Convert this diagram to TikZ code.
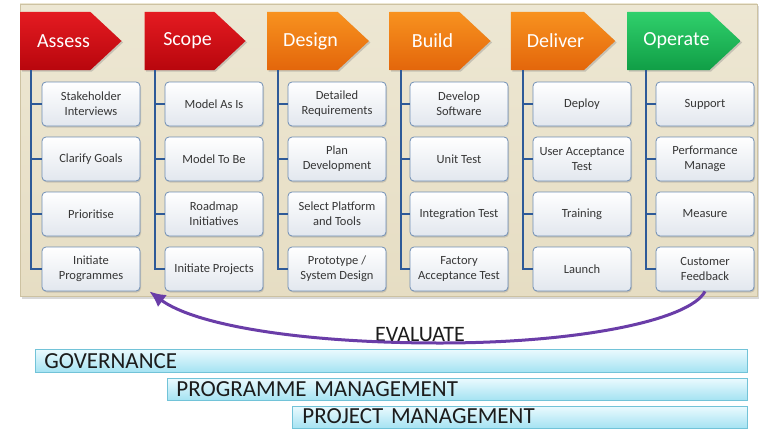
\documentclass[tikz,border=0pt]{standalone}
\usepackage{fontspec}
\setmainfont{Carlito}
\usetikzlibrary{arrows.meta, shapes.symbols, shadows}
\definecolor{panelbeige}{HTML}{E6DDC3}
\definecolor{paneltop}{HTML}{EDE7D3}
\definecolor{paneledge}{HTML}{CDC2A2}
\definecolor{redtop}{HTML}{E41B21}
\definecolor{redbottom}{HTML}{B8060D}
\definecolor{orangetop}{HTML}{F8921F}
\definecolor{orangebottom}{HTML}{E3660B}
\definecolor{greentop}{HTML}{30D06C}
\definecolor{greenbottom}{HTML}{109E46}
\definecolor{boxedge}{HTML}{6F8EB5}
\definecolor{boxbottom}{HTML}{E2E7EE}
\definecolor{boxtext}{HTML}{363636}
\definecolor{spineblue}{HTML}{2E5A98}
\definecolor{evalpurple}{HTML}{6A3DA8}
\definecolor{bartop}{HTML}{EAFAFE}
\definecolor{barbottom}{HTML}{A4E2F2}
\definecolor{baredge}{HTML}{72C3D8}
\definecolor{bartext}{HTML}{1C1C1C}

\tikzset{
  phase/.style={shape=signal, signal to=east, signal pointer angle=86,
    minimum width=101pt, minimum height=58pt, inner sep=0pt, text=white,
    font=\fontsize{20}{24}\selectfont,
    drop shadow={opacity=0.35, shadow xshift=1.5pt, shadow yshift=-1.5pt}},
  sub/.style={draw=boxedge, line width=0.8pt, rounded corners=4pt,
    top color=white, bottom color=boxbottom, minimum width=98pt,
    minimum height=44pt, align=center, text=boxtext,
    font=\fontsize{12.5}{14.7}\selectfont,
    drop shadow={opacity=0.3, shadow xshift=1pt, shadow yshift=-1.5pt}},
  spine/.style={draw=spineblue, line width=2.2pt},
  bar/.style={draw=baredge, line width=0.8pt, top color=bartop,
    bottom color=barbottom, anchor=north west, align=left, text=bartext,
    inner ysep=0pt, text height=14.8pt, text depth=0pt,
    font=\fontsize{23}{23}\selectfont}
}

\begin{document}
\begin{tikzpicture}[x=1pt, y=-1pt, >=Stealth]
  \useasboundingbox (0,0) rectangle (762,428);
  \fill[white] (0,0) rectangle (762,428);
  \draw[paneledge, top color=paneltop, bottom color=panelbeige,
    drop shadow={opacity=0.3, shadow xshift=2pt, shadow yshift=-2.5pt}]
    (20,4) rectangle (757,296);

  % phase headers
  \node[phase, top color=redtop, bottom color=redbottom] (assess) at (55.5,41) {\hspace*{16pt}Assess};
  \node[phase, top color=redtop, bottom color=redbottom] (scope) at (179.5,41) {\hspace*{16pt}Scope};
  \node[phase, top color=orangetop, bottom color=orangebottom] (design) at (302.5,41) {\hspace*{16pt}Design};
  \node[phase, top color=orangetop, bottom color=orangebottom] (build) at (424.5,41) {\hspace*{16pt}Build};
  \node[phase, top color=orangetop, bottom color=orangebottom] (deliver) at (547.5,41) {\hspace*{16pt}Deliver};
  \node[phase, top color=greentop, bottom color=greenbottom] (operate) at (668.5,41) {\hspace*{16pt}Operate};

  % activities
  \node[sub] (as1) at (91,104) {Stakeholder\\Interviews};
  \node[sub] (as2) at (91,159) {Clarify Goals};
  \node[sub] (as3) at (91,214) {Prioritise};
  \node[sub] (as4) at (91,269) {Initiate\\Programmes};
  \node[sub] (sc1) at (214,104) {Model As Is};
  \node[sub] (sc2) at (214,159) {Model To Be};
  \node[sub] (sc3) at (214,214) {Roadmap\\Initiatives};
  \node[sub] (sc4) at (214,269) {Initiate Projects};
  \node[sub] (de1) at (337,104) {Detailed\\Requirements};
  \node[sub] (de2) at (337,159) {Plan\\Development};
  \node[sub] (de3) at (337,214) {Select Platform\\and Tools};
  \node[sub] (de4) at (337,269) {Prototype /\\System Design};
  \node[sub] (bu1) at (459,104) {Develop\\Software};
  \node[sub] (bu2) at (459,159) {Unit Test};
  \node[sub] (bu3) at (459,214) {Integration Test};
  \node[sub] (bu4) at (459,269) {Factory\\Acceptance Test};
  \node[sub] (dl1) at (582,104) {Deploy};
  \node[sub] (dl2) at (582,159) {User Acceptance\\Test};
  \node[sub] (dl3) at (582,214) {Training};
  \node[sub] (dl4) at (582,269) {Launch};
  \node[sub] (op1) at (705,104) {Support};
  \node[sub] (op2) at (705,159) {Performance\\Manage};
  \node[sub] (op3) at (705,214) {Measure};
  \node[sub] (op4) at (705,269) {Customer\\Feedback};

  \coordinate (as0) at (31,70);
  \coordinate (sc0) at (155,70);
  \coordinate (de0) at (278,70);
  \coordinate (bu0) at (401,70);
  \coordinate (dl0) at (523,70);
  \coordinate (op0) at (646,70);
  \draw[spine] (as0) |- (as4.west) (as1.west) -- (as1.west -| as0) (as2.west) -- (as2.west -| as0) (as3.west) -- (as3.west -| as0);
  \draw[spine] (sc0) |- (sc4.west) (sc1.west) -- (sc1.west -| sc0) (sc2.west) -- (sc2.west -| sc0) (sc3.west) -- (sc3.west -| sc0);
  \draw[spine] (de0) |- (de4.west) (de1.west) -- (de1.west -| de0) (de2.west) -- (de2.west -| de0) (de3.west) -- (de3.west -| de0);
  \draw[spine] (bu0) |- (bu4.west) (bu1.west) -- (bu1.west -| bu0) (bu2.west) -- (bu2.west -| bu0) (bu3.west) -- (bu3.west -| bu0);
  \draw[spine] (dl0) |- (dl4.west) (dl1.west) -- (dl1.west -| dl0) (dl2.west) -- (dl2.west -| dl0) (dl3.west) -- (dl3.west -| dl0);
  \draw[spine] (op0) |- (op4.west) (op1.west) -- (op1.west -| op0) (op2.west) -- (op2.west -| op0) (op3.west) -- (op3.west -| op0);

  % feedback loop
  \node[font=\fontsize{22}{22}\selectfont, text=bartext] (evaluate) at (420,335) {EVALUATE};
  \draw[evalpurple, line width=3pt, -{Latex[length=16pt, width=15pt]}]
    (op4.south) .. controls (690,320) and (580,343) .. (440,343)
    .. controls (300,343) and (195,325) .. ([xshift=9pt]as4.south east);

  % management layers
  \node[bar, minimum width=712pt, minimum height=23pt, inner xsep=9pt, text width=694pt] (governance) at (35,349) {GOVERNANCE};
  \node[bar, minimum width=580pt, minimum height=22pt, inner xsep=9pt, text width=562pt] (programme) at (167,378) {PROGRAMME MANAGEMENT};
  \node[bar, minimum width=455pt, minimum height=22pt, inner xsep=10pt, text width=435pt, text depth=3pt] (project) at (292,406) {PROJECT MANAGEMENT};
\end{tikzpicture}
\end{document}
